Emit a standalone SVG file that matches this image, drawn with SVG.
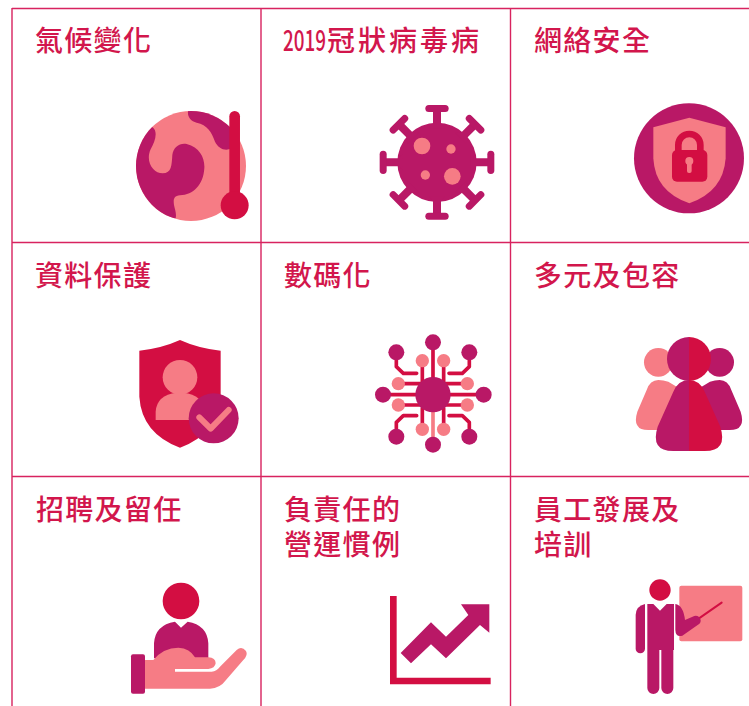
<svg xmlns="http://www.w3.org/2000/svg" width="749" height="706" viewBox="0 0 749 706">
<style>
.t{font-family:"Noto Sans CJK TC","Noto Sans CJK SC",sans-serif;font-size:28px;font-weight:500;letter-spacing:1.300px;fill:#d2164c}
.g{stroke:#d8235f;stroke-width:1.4;fill:none}
.m{fill:#b91866}.c{fill:#d30e42}.s{fill:#f67c85}
.ls{fill:none;stroke-linecap:round;stroke-linejoin:round}
</style>
<defs>
<clipPath id="globe"><circle cx="213" cy="228" r="165"/></clipPath>
<g id="spike"><path class="m" d="M189 40H213V85L225 100H177L189 85Z"/><rect class="m" x="166" y="30" width="70" height="21" rx="10.500"/></g>
</defs>
<rect width="749" height="706" fill="#fff"/>
<g id="grid">
<path class="g" d="M12 8.500H749M12 242.500H749M12 476.500H749M12 8V706M261 8V706M510.500 8V706"/>
</g>
<g id="climate">
<text class="t" x="35" y="51">氣候變化</text>
<g transform="translate(120,90) scale(.3333)">
<circle class="s" cx="213" cy="228" r="165"/>
<g clip-path="url(#globe)">
<path class="m" d="M98 112C115 125 105 155 92 178C75 215 100 250 128 250C155 250 155 225 157 195C160 170 180 158 200 162C240 172 255 205 253 235C250 285 220 315 180 316C160 318 160 330 162 345C165 360 170 370 167 385L20 400L20 112Z"/>
<path class="m" d="M204 50H335V175C315 185 295 175 285 155C275 125 262 105 230 98C212 93 202 80 204 64Z"/>
</g>
<rect class="c" x="328" y="63" width="32" height="270" rx="16"/>
<circle class="c" cx="344" cy="346" r="42"/>
</g>
</g>
<g id="covid">
<text class="t" x="283" y="51"><tspan textLength="43" lengthAdjust="spacingAndGlyphs" style="letter-spacing:0">2019</tspan><tspan dx="1" style="letter-spacing:3px">冠狀病毒病</tspan></text>
<g transform="translate(370,95) scale(.3333)">
<circle class="m" cx="201" cy="202" r="119"/>
<use href="#spike"/>
<use href="#spike" transform="rotate(45 201 202)"/>
<use href="#spike" transform="rotate(90 201 202)"/>
<use href="#spike" transform="rotate(135 201 202)"/>
<use href="#spike" transform="rotate(180 201 202)"/>
<use href="#spike" transform="rotate(225 201 202)"/>
<use href="#spike" transform="rotate(270 201 202)"/>
<use href="#spike" transform="rotate(315 201 202)"/>
<circle class="s" cx="156" cy="153" r="25"/>
<circle class="s" cx="243" cy="162" r="14"/>
<circle class="s" cx="166" cy="240" r="14"/>
<circle class="s" cx="247" cy="244" r="25"/>
</g>
</g>
<g id="cyber">
<text class="t" x="534" y="51">網絡安全</text>
<g transform="translate(620,95) scale(.3333)">
<circle class="m" cx="207" cy="190" r="165"/>
<path class="s" d="M100 97L208 68L317 97V190Q310 290 208 325Q105 290 100 190Z"/>
<path class="ls" stroke="#d30e42" stroke-width="20" d="M175 175V150A33 33 0 0 1 241 150V175"/>
<rect class="c" x="156" y="165" width="106" height="95" rx="15"/>
<circle class="s" cx="208" cy="198" r="12"/>
<rect class="s" x="201" y="200" width="14" height="34" rx="6"/>
</g>
</g>
<g id="privacy">
<text class="t" x="35" y="286">資料保護</text>
<g transform="translate(120,330) scale(.3333)">
<path class="c" d="M58 62Q125 55 180 30Q235 55 302 62V200Q295 310 180 353Q65 310 58 200Z"/>
<circle class="s" cx="180" cy="142" r="52"/>
<path class="s" d="M107 270V245Q110 195 170 188H190Q250 195 255 245V270Z"/>
<circle class="m" cx="281" cy="265" r="75"/>
<path class="ls" stroke="#f67c85" stroke-width="18" d="M238 262L272 296L326 240"/>
</g>
</g>
<g id="digital">
<text class="t" x="284" y="286">數碼化</text>
<g transform="translate(365,325) scale(.3333)">
<g class="ls" stroke="#d30e42" stroke-width="11">
<path d="M204 52V160M54 209H160M356 209H250"/>
<path d="M172 107V170M236 107V170M172 313V250M236 313V250"/>
<path d="M100 176H170M307 176H240M100 240H170M307 240H240"/>
<path d="M94 82V125L115 145H155M313 82V125L292 145H252M94 335V292L115 272H155M313 335V292L292 272H252"/>
</g>
<path class="ls" stroke="#f67c85" stroke-width="11" d="M204 255V359"/>
<circle class="m" cx="204" cy="209" r="53"/>
<g class="m">
<circle cx="204" cy="52" r="24"/><circle cx="204" cy="359" r="24"/><circle cx="54" cy="209" r="24"/><circle cx="356" cy="209" r="24"/>
<circle cx="94" cy="82" r="24"/><circle cx="313" cy="82" r="24"/><circle cx="94" cy="335" r="24"/><circle cx="313" cy="335" r="24"/>
</g>
<g class="s">
<circle cx="172" cy="107" r="20"/><circle cx="236" cy="107" r="20"/><circle cx="172" cy="313" r="20"/><circle cx="236" cy="313" r="20"/>
<circle cx="100" cy="176" r="20"/><circle cx="307" cy="176" r="20"/><circle cx="100" cy="240" r="20"/><circle cx="307" cy="240" r="20"/>
</g>
</g>
</g>
<g id="diversity">
<text class="t" x="534" y="286">多元及包容</text>
<g transform="translate(625,325) scale(.3333)">
<circle class="s" cx="100" cy="112" r="43"/>
<path class="s" d="M100 165Q75 165 65 195L37 260Q20 315 70 315H130L180 200L130 170Q115 165 100 165Z"/>
<circle class="m" cx="284" cy="112" r="43"/>
<path class="m" d="M284 165Q309 165 319 195L347 260Q364 315 314 315H250L205 200L255 170Q270 165 284 165Z"/>
<path class="m" d="M192 36A66 66 0 0 0 192 168Z"/>
<path class="c" d="M192 36A66 66 0 0 1 192 168Z"/>
<path class="m" d="M192 165Q160 165 145 200L98 305Q75 378 145 378H192Z"/>
<path class="c" d="M192 165Q224 165 239 200L286 305Q309 378 239 378H192Z"/>
</g>
</g>
<g id="talent">
<text class="t" x="36" y="520">招聘及留任</text>
<g transform="translate(120,575) scale(.3333)">
<circle class="c" cx="183" cy="78" r="55"/>
<path class="m" d="M102 250V205Q105 150 165 140L183 158L203 140Q262 150 265 205V250Z"/>
<rect class="m" x="33" y="238" width="42" height="118" rx="6"/>
<path class="s" d="M75 255H100Q130 218 175 218Q210 220 225 247H265Q287 249 287 265Q285 280 265 282H165V290H275Q290 288 300 275L350 225Q365 212 378 228Q385 240 370 255L318 315Q300 340 270 341H75Z"/>
</g>
</g>
<g id="practice">
<text class="t" x="284" y="520">負責任的<tspan x="284" dy="35">營運慣例</tspan></text>
<g transform="translate(380,585) scale(.3333)">
<path class="c" d="M30 33H50V278H332V298H30Z"/>
<path class="m" d="M62 204L153 112L198 155L265 90L243 58H328V143L300 120L198 220L153 178L93 235Z"/>
</g>
</g>
<g id="training">
<text class="t" x="534" y="520">員工發展及<tspan x="534" dy="35">培訓</tspan></text>
<g transform="translate(625,570) scale(.3333)">
<rect class="s" x="163" y="47" width="189" height="167" rx="6"/>
<path class="ls" stroke="#d30e42" stroke-width="6" d="M222 145L290 98"/>
<circle class="c" cx="105" cy="60" r="32"/>
<path class="m" d="M67 102H85L105 122L125 102H147V240H145V354A18 18 0 0 1 109 354V240H103V354A18 18 0 0 1 67 354Z"/>
<path class="m" d="M60 102V236A14 14 0 0 1 32 236V135Q33 108 60 102Z"/>
<path class="m" d="M151 102Q175 106 180 150L208 138Q222 135 227 150Q228 160 218 165L172 197Q152 203 151 180Z"/>
</g>
</g>
</svg>
